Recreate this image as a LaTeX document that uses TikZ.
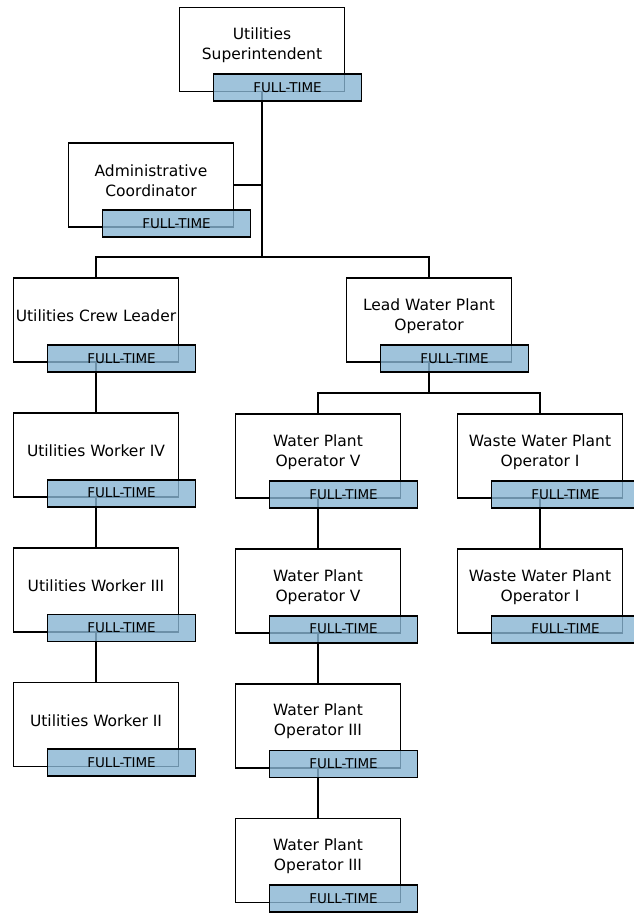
\documentclass[tikz,border=0pt]{standalone}
\usepackage{fontspec}
\setmainfont{DejaVu Sans}
\usetikzlibrary{positioning}
\definecolor{tagblue}{RGB}{136,181,211}
\begin{document}
\begin{tikzpicture}[x=1pt,y=-1pt,line width=1.8pt,node distance=49pt,
  post/.style={draw,fill=white,minimum width=165pt,minimum height=84pt,inner sep=0pt},
  title/.style={align=center,inner sep=0pt,font=\fontsize{15.5}{20}\selectfont},
  tag/.style={draw,fill=tagblue,fill opacity=0.8,text opacity=1,anchor=north west,
    minimum width=148pt,minimum height=27pt,inner sep=0pt,font=\fontsize{13.5}{15}\selectfont}]
\useasboundingbox (0,0) rectangle (633,915);
% position boxes
\node[post] (sup) at (262,49.5) {};
\node[post] (adm) at (151,185) {};
\node[post] (crew) at (96,320) {};
\node[post] (lead) at (429,320) {};
\node[post, below=of crew] (uw4) {};
\node[post, below=of uw4] (uw3) {};
\node[post, below=of uw3] (uw2) {};
\node[post] (wpo5a) at (318,456) {};
\node[post, below=of wpo5a] (wpo5b) {};
\node[post, below=of wpo5b] (wpo3a) {};
\node[post, below=of wpo3a] (wpo3b) {};
\node[post] (wwo1a) at (540,456) {};
\node[post, below=of wwo1a] (wwo1b) {};
% titles
\node[title] (sup-t) at ([yshift=4pt]sup) {Utilities\\Superintendent};
\node[title] (adm-t) at ([yshift=4pt]adm) {Administrative\\Coordinator};
\node[title] (crew-t) at ([yshift=4pt]crew) {Utilities Crew Leader};
\node[title] (lead-t) at ([yshift=4pt]lead) {Lead Water Plant\\Operator};
\node[title] (uw4-t) at ([yshift=4pt]uw4) {Utilities Worker IV};
\node[title] (uw3-t) at ([yshift=4pt]uw3) {Utilities Worker III};
\node[title] (uw2-t) at ([yshift=4pt]uw2) {Utilities Worker II};
\node[title] (wpo5a-t) at ([yshift=4pt]wpo5a) {Water Plant\\Operator V};
\node[title] (wpo5b-t) at ([yshift=4pt]wpo5b) {Water Plant\\Operator V};
\node[title] (wpo3a-t) at ([yshift=4pt]wpo3a) {Water Plant\\Operator III};
\node[title] (wpo3b-t) at ([yshift=4pt]wpo3b) {Water Plant\\Operator III};
\node[title] (wwo1a-t) at ([yshift=4pt]wwo1a) {Waste Water Plant\\Operator I};
\node[title] (wwo1b-t) at ([yshift=4pt]wwo1b) {Waste Water Plant\\Operator I};
% lines
\coordinate (top) at (262,257);
\coordinate (plant) at (429,393);
\draw (sup.south) -- (top);
\draw (adm.east) -- (adm.east -| top);
\draw (crew.north) |- (top) -| (lead.north);
\draw (lead.south) -- (plant);
\draw (wpo5a.north) |- (plant) -| (wwo1a.north);
\draw (crew) -- (uw4) (uw4) -- (uw3) (uw3) -- (uw2);
\draw (wpo5a) -- (wpo5b) (wpo5b) -- (wpo3a) (wpo3a) -- (wpo3b);
\draw (wwo1a) -- (wwo1b);
% full-time tags
\foreach \p in {sup,adm,crew,lead,uw4,uw3,uw2,wpo5a,wpo5b,wpo3a,wpo3b,wwo1a,wwo1b}
  \node[tag] (\p-f) at ([xshift=34pt,yshift=19pt]\p.south west) {FULL-TIME};
\end{tikzpicture}
\end{document}
